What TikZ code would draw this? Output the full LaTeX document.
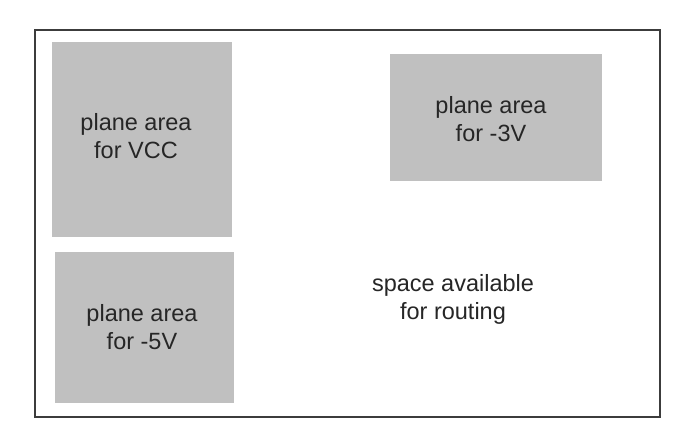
\documentclass[tikz,border=0pt]{standalone}
\usepackage{fontspec}
\setmainfont{Liberation Sans}
\definecolor{planegray}{RGB}{192,192,192}
\definecolor{frame}{RGB}{60,60,60}
\begin{document}
\begin{tikzpicture}[x=1pt,y=-1pt,
  plane/.style={fill=planegray,draw=none},
  lbl/.style={align=center,font=\fontsize{23.5}{28}\selectfont,text=black!85,inner sep=0pt}]
\useasboundingbox (0,0) rectangle (699,437);
\fill[white] (0,0) rectangle (699,437);
\draw[frame,line width=2pt] (35,30) rectangle (660,417);
\fill[plane] (52,42) rectangle (232,237);
\fill[plane] (55,252) rectangle (234,403);
\fill[plane] (390,54) rectangle (602,181);
\node[lbl] (vcc) at (136,136) {plane area\\for VCC};
\node[lbl] (m3) at (491,119) {plane area\\for -3V};
\node[lbl] (m5) at (142,327) {plane area\\for -5V};
\node[lbl] (route) at (453,299) {space available\\for routing};
\end{tikzpicture}
\end{document}
